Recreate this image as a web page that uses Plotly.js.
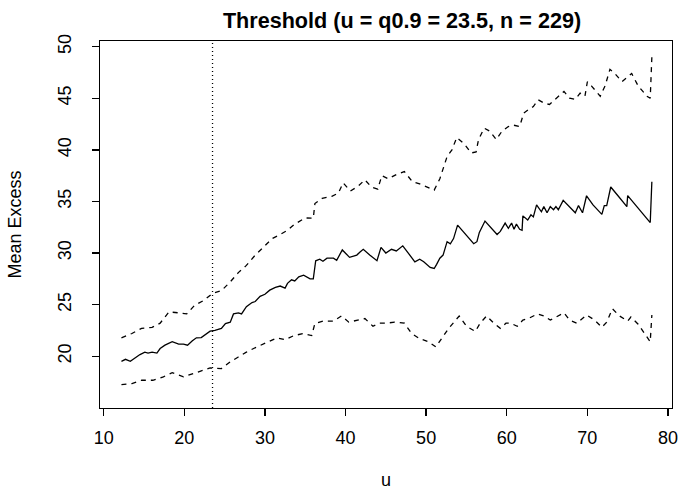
<!DOCTYPE html>
<html>
<head>
<meta charset="utf-8">
<script src="https://cdn.plot.ly/plotly-3.0.1.min.js"></script>
<style>html,body{margin:0;padding:0;background:#fff;}#chart{width:680px;height:490px;}</style>
</head>
<body>
<div id="chart"></div>
<script>
// Mean excess (solid) readings
var uMean = [12.2,12.7,13.3,13.9,14.5,15.1,15.5,16.0,16.6,17.0,17.6,18.5,19.3,19.9,20.4,21.0,21.5,22.1,22.7,23.2,23.8,24.6,25.1,25.7,26.1,26.7,27.1,27.7,28.4,28.8,29.4,30.0,30.6,31.3,31.9,32.5,32.8,33.3,33.7,34.2,34.8,35.2,35.6,36.0,36.3,36.8,37.2,37.7,38.5,38.9,39.6,40.5,41.4,41.8,42.2,43.0,43.9,44.4,45.0,45.7,46.3,47.1,47.8,48.6,49.2,49.7,50.5,51.0,51.3,51.7,52.1,52.6,53.0,53.4,53.9,54.8,55.9,56.3,56.6,57.3,58.8,59.2,59.8,60.2,60.6,60.9,61.2,61.6,61.9,62.0,62.6,63.0,63.3,63.7,64.3,64.6,65.0,65.4,65.8,66.1,66.4,67.0,67.8,68.5,68.9,69.4,69.9,70.7,71.8,72.1,72.4,72.9,73.8,74.9,75.0,76.1,77.8,78.0];
var meanExcess = [19.5,19.7,19.5,19.87,20.16,20.4,20.3,20.4,20.3,20.74,21.07,21.4,21.17,21.17,21.07,21.49,21.78,21.8,22.1,22.43,22.5,22.7,23.17,23.3,24.1,24.2,24.1,24.8,25.2,25.3,25.8,26.0,26.4,26.67,26.8,26.6,27.06,27.4,27.3,27.7,27.86,27.7,27.5,27.5,29.25,29.4,29.2,29.5,29.5,29.3,30.3,29.58,29.8,30.1,30.36,29.8,29.25,30.55,30.0,30.36,30.2,30.7,30.0,29.15,29.4,29.15,28.6,28.5,28.9,29.5,29.8,31.1,30.9,31.4,32.7,31.9,30.9,31.1,32.0,33.1,31.8,32.1,32.9,32.4,32.9,32.3,32.8,32.3,32.2,33.6,33.2,33.7,33.5,34.66,34.0,34.5,33.9,34.5,34.2,34.5,34.2,35.1,34.5,33.9,34.6,33.9,35.55,34.66,33.75,34.6,34.6,36.4,35.55,34.5,35.56,34.5,32.95,36.9];

// Upper confidence band (dashed)
var uUpper = [12.2,13.5,14.7,16.0,17.0,18.1,19.3,20.3,21.3,22.4,23.5,24.6,25.7,26.7,27.7,28.8,29.8,30.9,31.9,32.8,33.7,35.0,36.0,36.2,37.1,38.3,39.1,39.7,40.6,41.6,42.4,43.2,44.0,44.5,45.3,46.3,47.3,48.3,49.2,50.3,51.0,51.7,52.6,53.2,53.8,54.7,55.6,56.2,56.5,57.2,57.9,58.7,59.4,60.2,60.8,61.6,62.1,62.7,63.3,63.9,64.7,65.3,66.2,67.1,67.8,68.5,69.1,69.7,70.0,70.5,71.6,72.2,72.8,73.4,74.3,75.5,76.3,77.4,77.8,78.0];
var upperCI = [21.78,22.2,22.7,22.8,23.2,24.3,24.2,24.1,24.95,25.4,26.09,26.35,27.2,28.1,28.8,29.8,30.55,31.4,31.8,32.2,32.8,33.4,33.37,34.8,35.3,35.5,35.8,36.8,36.0,36.5,37.1,36.4,36.2,37.5,37.2,37.6,37.9,36.9,36.7,36.3,36.1,37.2,39.35,40.0,41.2,40.6,39.7,39.8,41.0,42.1,41.8,41.0,41.8,42.26,42.4,42.26,43.55,43.9,44.2,44.85,44.5,44.4,45.0,45.66,45.0,44.9,45.5,45.2,46.6,46.2,45.2,46.2,47.8,47.4,46.6,47.4,46.2,45.2,45.0,49.0];

// Lower confidence band (dashed)
var uLower = [12.2,13.5,14.7,16.1,17.4,18.5,19.9,21.1,22.2,23.2,24.6,25.7,26.7,27.7,29.0,30.2,31.5,32.5,33.6,34.8,35.8,36.2,37.2,38.5,39.5,40.4,41.4,42.4,43.4,44.2,45.0,46.1,47.3,48.2,49.2,50.3,51.2,52.2,52.8,54.1,55.0,56.1,56.7,57.5,58.4,59.2,59.9,60.5,61.3,62.0,62.8,63.8,64.6,65.4,66.3,67.1,67.8,68.7,69.9,70.9,71.8,72.4,73.1,74.0,75.0,75.4,76.3,77.2,77.8,78.0];
var lowerCI = [17.25,17.35,17.67,17.67,18.0,18.4,18.0,18.3,18.6,18.86,18.8,19.45,19.93,20.4,20.9,21.3,21.78,21.6,22.0,22.2,22.0,23.17,23.4,23.4,23.9,23.3,23.5,23.65,22.9,23.2,23.2,23.3,23.2,22.2,21.7,21.4,20.9,22.0,22.7,23.9,22.9,22.4,23.2,23.9,23.2,22.7,23.2,23.2,22.9,23.5,23.7,24.1,23.9,23.5,23.9,24.2,23.5,23.2,24.0,23.5,22.8,23.3,24.6,23.9,23.4,23.8,23.1,22.0,21.4,24.0];

var threshold = 23.5;
var xTicks = [10,20,30,40,50,60,70,80];
var yTicks = [20,25,30,35,40,45,50];
var titleText = "Threshold (u = q0.9 = 23.5, n = 229)";

var font = "Liberation Sans, Arial, Helvetica, sans-serif";

var traces = [
  {x: uMean, y: meanExcess, mode: 'lines', line: {color: '#000', width: 1.3}, hoverinfo: 'skip'},
  {x: uUpper, y: upperCI, mode: 'lines', line: {color: '#000', width: 1.3, dash: '5px,5px'}, hoverinfo: 'skip'},
  {x: uLower, y: lowerCI, mode: 'lines', line: {color: '#000', width: 1.3, dash: '5px,5px'}, hoverinfo: 'skip'}
];

var axisCommon = {
  showgrid: false, zeroline: false, showline: true, mirror: true,
  linecolor: '#000', linewidth: 1.3,
  ticks: 'outside', ticklen: 7, tickwidth: 1.3, tickcolor: '#000',
  tickfont: {family: font, size: 18, color: '#000'}
};

var layout = {
  width: 680, height: 490,
  margin: {l: 100, r: 8, t: 41, b: 82},
  paper_bgcolor: '#fff', plot_bgcolor: '#fff',
  showlegend: false,
  title: {text: '<b>' + titleText + '</b>', font: {family: font, size: 21.6, color: '#000'},
          x: 402/680, xref: 'container', xanchor: 'center', y: 1 - 20/490, yref: 'container', yanchor: 'middle'},
  xaxis: Object.assign({}, axisCommon, {
    range: [9.54, 80.5], tickmode: 'array', tickvals: xTicks, ticktext: xTicks.map(String),
    ticklabelstandoff: 6,
    title: {text: 'u', font: {family: font, size: 18, color: '#000'}, standoff: 27}
  }),
  yaxis: Object.assign({}, axisCommon, {
    range: [14.98, 50.55], tickmode: 'array', tickvals: yTicks, ticktext: yTicks.map(String),
    tickangle: -90, ticklabelstandoff: 14,
    title: {text: 'Mean Excess', font: {family: font, size: 18, color: '#000'}, standoff: 28}
  }),
  shapes: [{type: 'line', xref: 'x', yref: 'paper', x0: threshold, x1: threshold, y0: 0, y1: 1,
            line: {color: '#000', width: 1.3, dash: '1px,3px'}}]
};

Plotly.newPlot('chart', traces, layout, {staticPlot: true, displayModeBar: false});
</script>
</body>
</html>
